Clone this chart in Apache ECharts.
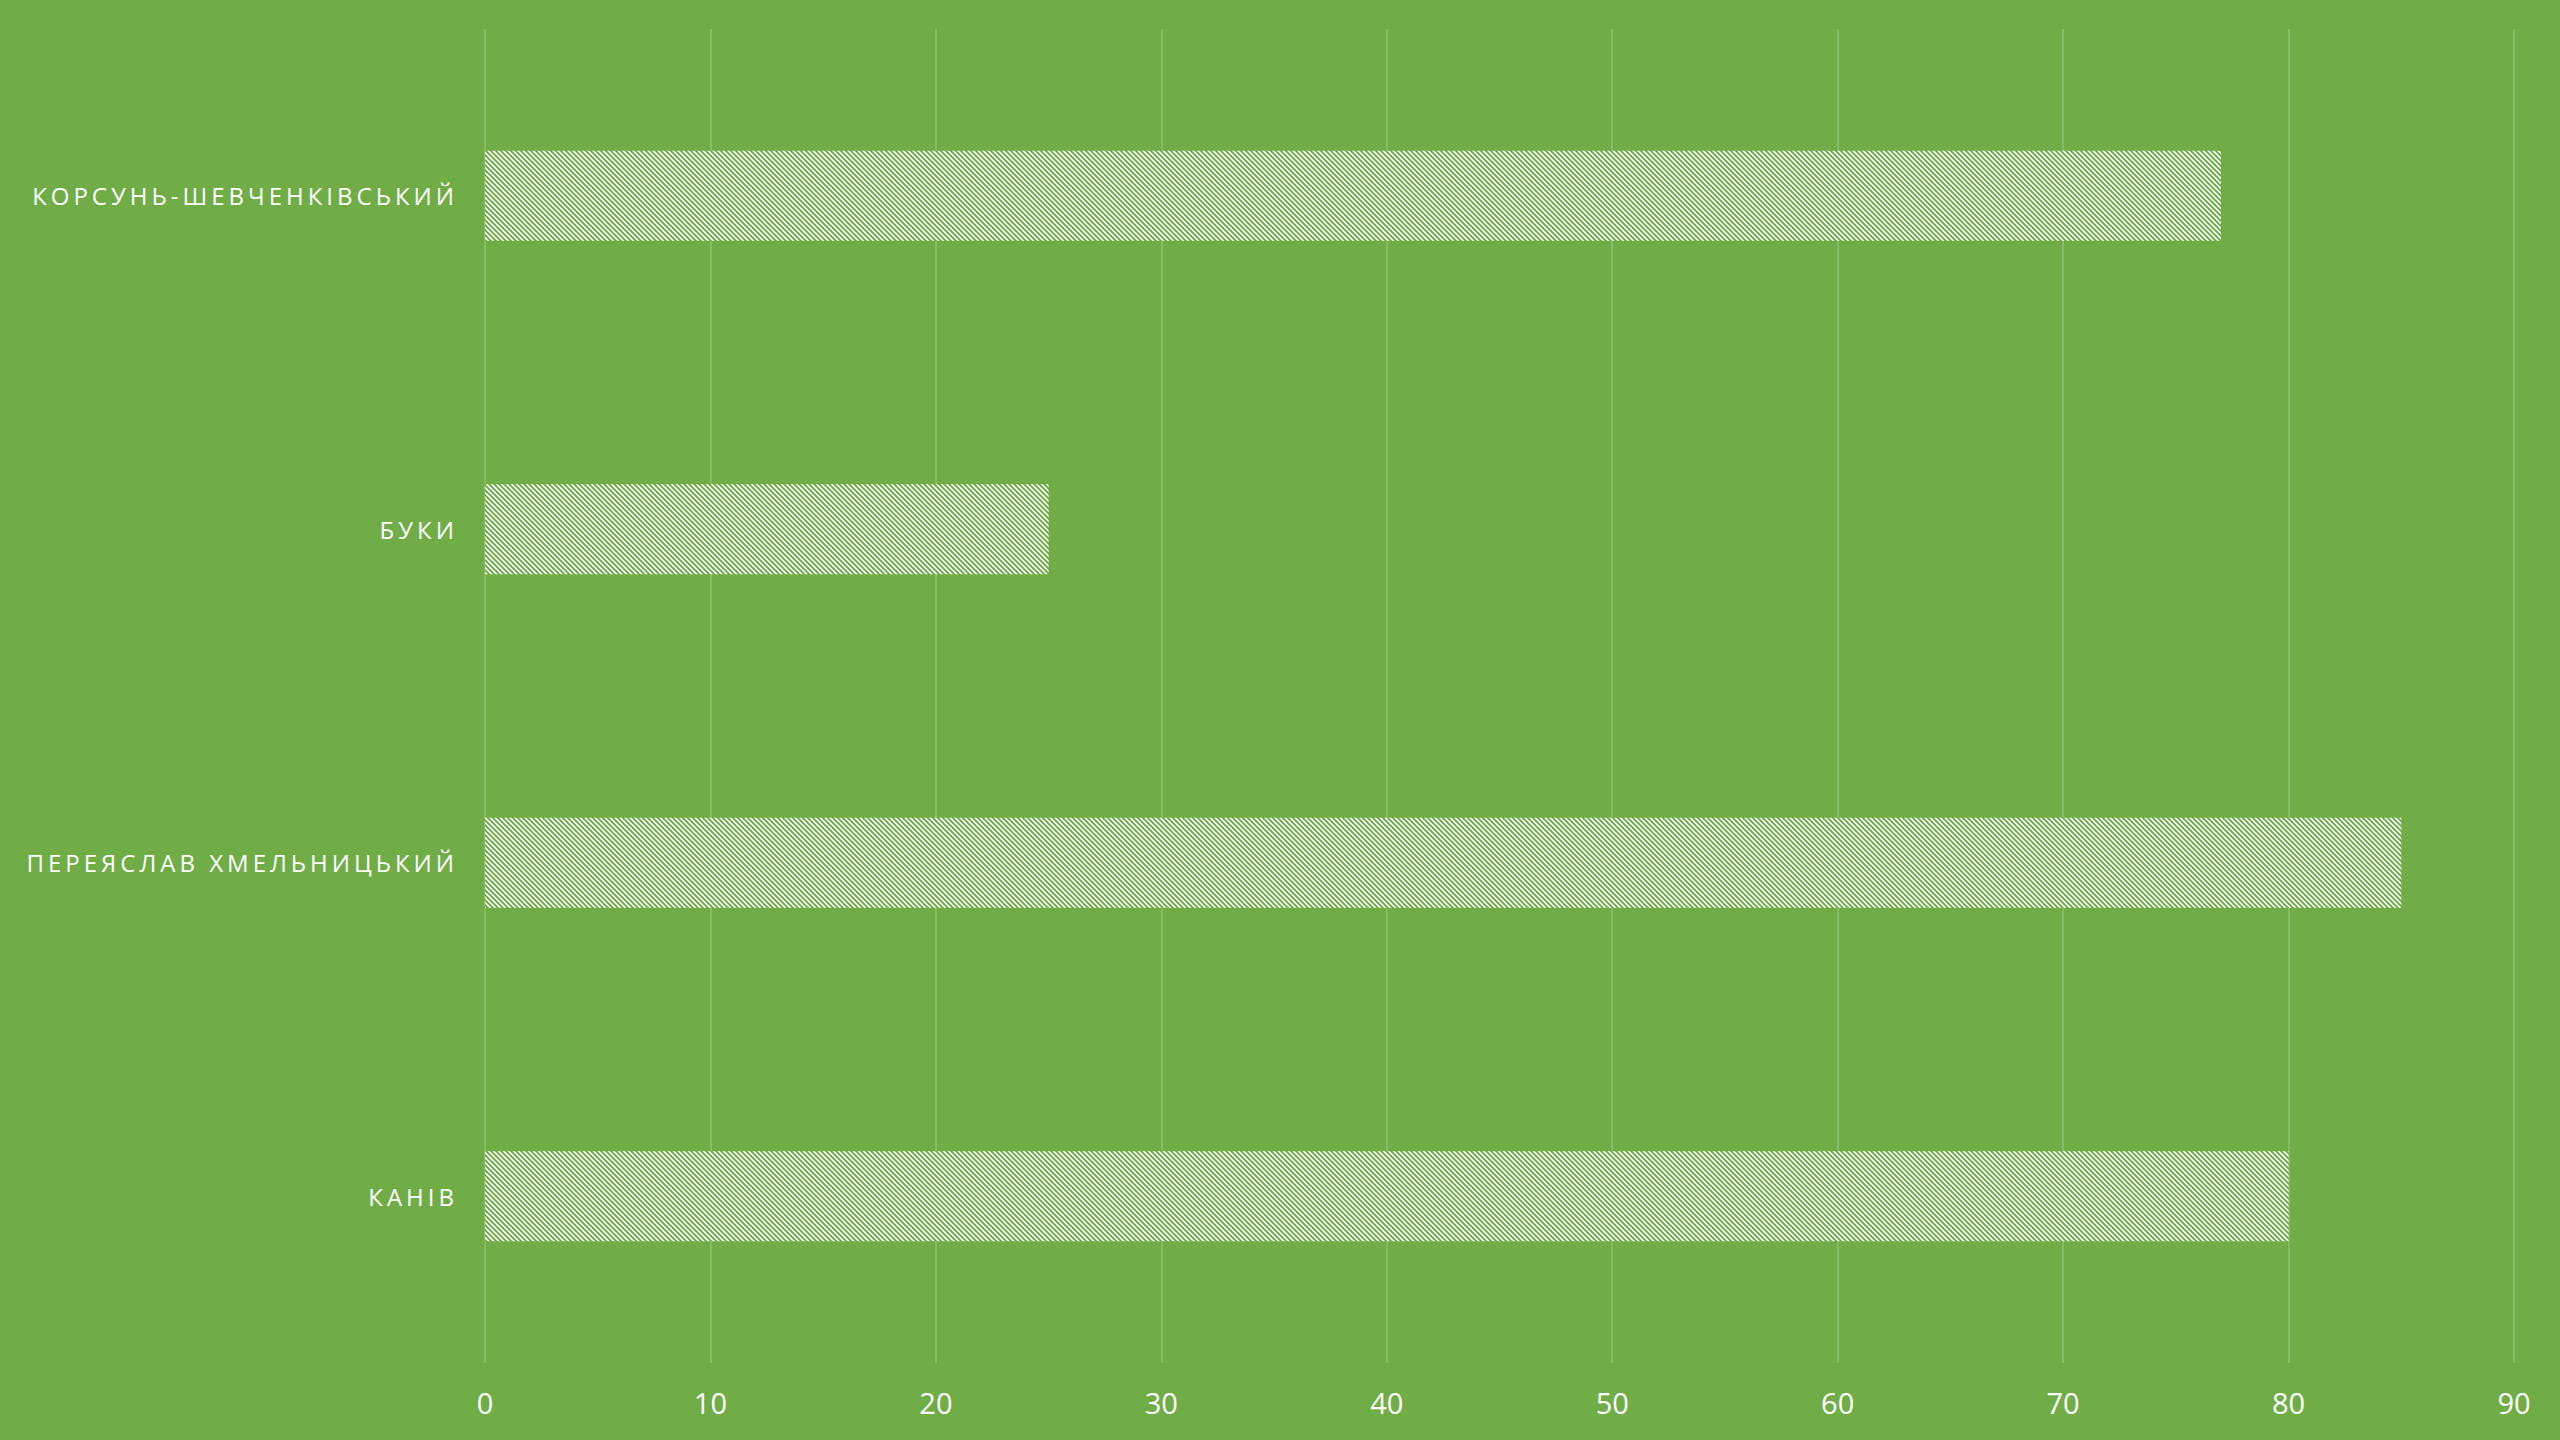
<!DOCTYPE html>
<html>
<head>
<meta charset="utf-8">
<script src="https://cdn.jsdelivr.net/npm/echarts@6/dist/echarts.min.js"></script>
<style>
  html, body { margin: 0; padding: 0; background: #70AD47; }
  #chart { width: 2560px; height: 1440px; }
  /* розрядка літер для підписів категорій (вирівняні праворуч) */
  #chart svg text[text-anchor="end"] { letter-spacing: 4px; }
</style>
</head>
<body>
<div id="chart"></div>
<script>
  // категорії зверху вниз
  const categories = ['КОРСУНЬ-ШЕВЧЕНКІВСЬКИЙ', 'БУКИ', 'ПЕРЕЯСЛАВ ХМЕЛЬНИЦЬКИЙ', 'КАНІВ'];
  const values = [77, 25, 85, 80];
  const xTicks = { min: 0, max: 90, interval: 10 };

  /** плитка штрихування: білий фон з діагональними зеленими лініями */
  const makeHatch = () => {
    const n = 5;
    const c = document.createElement('canvas');
    c.width = n;
    c.height = n;
    const ctx = c.getContext('2d');
    ctx.fillStyle = '#ffffff';
    ctx.fillRect(0, 0, n, n);
    ctx.strokeStyle = '#6aaa44';
    ctx.lineWidth = 1.9;
    ctx.beginPath();
    ctx.moveTo(-1, -1); ctx.lineTo(n + 1, n + 1);
    ctx.moveTo(-1, n - 1); ctx.lineTo(1, n + 1);
    ctx.moveTo(n - 1, -1); ctx.lineTo(n + 1, 1);
    ctx.stroke();
    return c;
  };

  const chart = echarts.init(document.getElementById('chart'), null, { renderer: 'svg' });

  const option = {
    animation: false,
    backgroundColor: '#70AD47',
    grid: {
      left: 485,
      right: 46,
      top: 29,
      bottom: 77,
    },
    xAxis: {
      type: 'value',
      min: xTicks.min,
      max: xTicks.max,
      interval: xTicks.interval,
      axisLine: { show: false },
      axisTick: { show: false },
      axisLabel: {
        color: '#ffffff',
        fontSize: 29,
        fontFamily: 'Open Sans',
        margin: 25,
      },
      splitLine: {
        show: true,
        lineStyle: { color: 'rgba(255, 255, 255, 0.22)', width: 1.5 },
      },
    },
    yAxis: {
      type: 'category',
      data: categories,
      inverse: true,
      axisLine: { show: false },
      axisTick: { show: false },
      axisLabel: {
        color: '#ffffff',
        fontSize: 24,
        fontFamily: 'Open Sans',
        margin: 27,
      },
    },
    series: [
      {
        type: 'bar',
        data: values,
        barWidth: 90,
        itemStyle: {
          color: { image: makeHatch(), repeat: 'repeat' },
        },
      },
    ],
  };

  chart.setOption(option);
</script>
</body>
</html>
